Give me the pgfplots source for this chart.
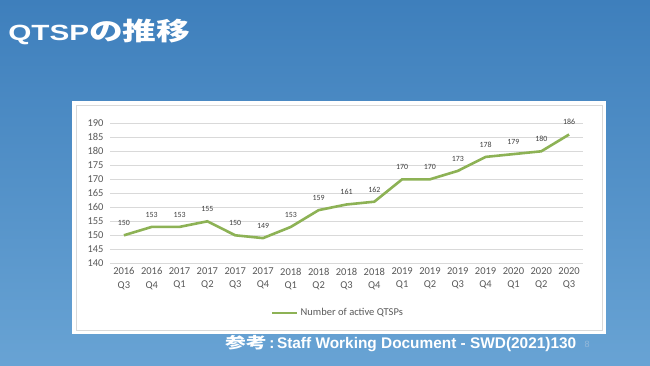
\documentclass[border=0pt]{standalone}
\usepackage{fontspec}
\usepackage{graphicx}
\usepackage{pgfplots}
\pgfplotsset{compat=1.18}
\setmainfont{Carlito}
\newfontfamily\cjk{Noto Sans CJK JP}
\newfontfamily\arialf{Liberation Sans}
\definecolor{bgtop}{HTML}{3E7FBC}
\definecolor{bgbot}{HTML}{68A3D4}
\definecolor{linegreen}{HTML}{8DB255}
\definecolor{labgray}{HTML}{404040}
\definecolor{tickgray}{HTML}{595959}
\definecolor{gridgray}{HTML}{D9D9D9}
\begin{document}
\begin{tikzpicture}
\shade[top color=bgtop,bottom color=bgbot] (0pt,0pt) rectangle (650pt,365pt);
\fill[white] (72pt,31pt) rectangle (606pt,264pt);
\draw[gridgray,line width=0.6pt] (76pt,35pt) rectangle (602pt,260pt);
\node[anchor=west,text=white,inner sep=0pt,xscale=1.35] at (8pt,333pt)
  {\fontsize{22}{26}\selectfont\arialf\bfseries QTSP{\fontsize{25}{28}\selectfont\cjk\bfseries の推移}};
\node[anchor=west,text=white,inner sep=0pt] at (225pt,21.7pt)
  {\fontsize{15.4}{18}\selectfont{\cjk\bfseries\scalebox{1.35}[1]{参考}}\arialf\bfseries\,:\,Staff Working Document - SWD(2021)130};
\node[anchor=center,text=bgtop!55!white,inner sep=0pt] at (587pt,21pt)
  {\fontsize{9}{10}\selectfont\arialf 8};
\begin{axis}[
  at={(110pt,101.7pt)}, anchor=south west,
  scale only axis, width=473pt, height=140pt,
  xmin=-0.5, xmax=16.5, ymin=140, ymax=190,
  ytick={140,145,...,190},
  xtick={0,...,16},
  xticklabels={{2016\\Q3},{2016\\Q4},{2017\\Q1},{2017\\Q2},{2017\\Q3},{2017\\Q4},{2018\\Q1},{2018\\Q2},{2018\\Q3},{2018\\Q4},{2019\\Q1},{2019\\Q2},{2019\\Q3},{2019\\Q4},{2020\\Q1},{2020\\Q2},{2020\\Q3}},
  xticklabel style={align=center,font=\fontsize{10.5}{13.3}\selectfont,text=tickgray,yshift=-1pt},
  yticklabel style={font=\fontsize{10.5}{12}\selectfont,text=tickgray,xshift=-3pt},
  /pgf/number format/assume math mode=true,
  axis line style={draw=none},
  major tick length=0pt,
  ymajorgrids, grid style={gridgray,line width=0.75pt},
  nodes near coords,
  every node near coord/.append style={font=\fontsize{7.9}{9}\selectfont,text=labgray,yshift=5pt},
  legend style={at={(0.482,-0.355)},anchor=center,draw=none,fill=none,font=\fontsize{10.5}{12}\selectfont,text=tickgray},
  legend image code/.code={\draw[#1,line width=2.6pt] (0,0) -- (25pt,0);},
  clip=false,
]
\addplot[linegreen,line width=2.6pt,mark=none] coordinates {
(0,150) (1,153) (2,153) (3,155) (4,150) (5,149) (6,153) (7,159) (8,161) (9,162) (10,170) (11,170) (12,173) (13,178) (14,179) (15,180) (16,186)};
\addlegendentry{Number of active QTSPs}
\end{axis}
\end{tikzpicture}
\end{document}
